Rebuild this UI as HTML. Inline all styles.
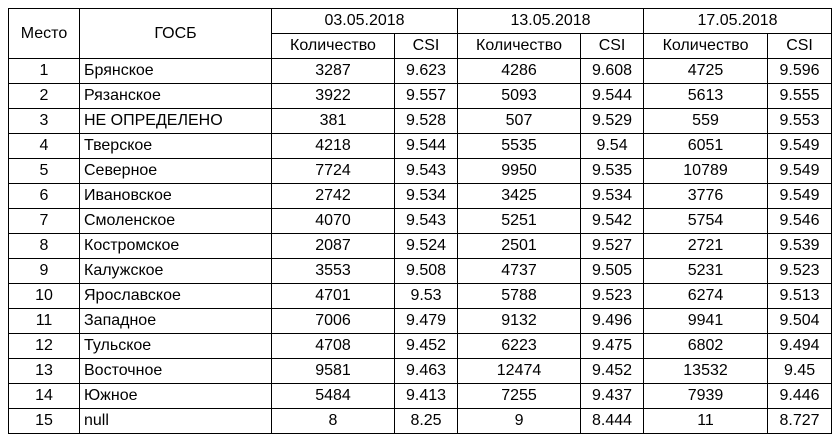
<!DOCTYPE html>
<html><head><meta charset="utf-8">
<style>
html,body{margin:0;padding:0;background:#fff;width:840px;height:442px;overflow:hidden}
table{position:absolute;left:8px;top:8px;border-collapse:collapse;table-layout:fixed;width:824px;
font-family:"Liberation Sans",Arial,sans-serif;font-size:16px;color:#000}
td,th{border:1px solid #000;height:24px;padding:0 4px;font-weight:normal;text-align:center;white-space:nowrap;overflow:hidden;line-height:24px}
td.l{text-align:left}
</style></head><body>
<table>
<colgroup><col style="width:71px"><col style="width:192px"><col style="width:123px"><col style="width:63px"><col style="width:123px"><col style="width:63px"><col style="width:124px"><col style="width:64px"></colgroup>
<thead>
<tr>
<th rowspan="2">Место</th>
<th rowspan="2">ГОСБ</th>
<th colspan="2">03.05.2018</th>
<th colspan="2">13.05.2018</th>
<th colspan="2">17.05.2018</th>
</tr>
<tr>
<th>Количество</th><th>CSI</th>
<th>Количество</th><th>CSI</th>
<th>Количество</th><th>CSI</th>
</tr>
</thead>
<tbody id="tb"></tbody>
</table>
<script>
const names=["Брянское","Рязанское","НЕ ОПРЕДЕЛЕНО","Тверское","Северное","Ивановское","Смоленское","Костромское","Калужское","Ярославское","Западное","Тульское","Восточное","Южное","null"];
const count1=[3287,3922,381,4218,7724,2742,4070,2087,3553,4701,7006,4708,9581,5484,8];
const csi1=["9.623","9.557","9.528","9.544","9.543","9.534","9.543","9.524","9.508","9.53","9.479","9.452","9.463","9.413","8.25"];
const count2=[4286,5093,507,5535,9950,3425,5251,2501,4737,5788,9132,6223,12474,7255,9];
const csi2=["9.608","9.544","9.529","9.54","9.535","9.534","9.542","9.527","9.505","9.523","9.496","9.475","9.452","9.437","8.444"];
const count3=[4725,5613,559,6051,10789,3776,5754,2721,5231,6274,9941,6802,13532,7939,11];
const csi3=["9.596","9.555","9.553","9.549","9.549","9.549","9.546","9.539","9.523","9.513","9.504","9.494","9.45","9.446","8.727"];
const tb=document.getElementById('tb');
names.forEach((n,i)=>{
  const tr=document.createElement('tr');
  
  
  const vals=[[i+1,''],[n,'l'],[count1[i],''],[csi1[i],''],[count2[i],''],[csi2[i],''],[count3[i],''],[csi3[i],'']];
  const keys=['place','gosb','count-1','csi-1','count-2','csi-2','count-3','csi-3'];
  vals.forEach((v,j)=>{
    const td=document.createElement('td');
    td.textContent=v[0];
    if(v[1])td.className=v[1];
    
    
    tr.appendChild(td);
  });
  tb.appendChild(tr);
});
</script>
</body></html>
